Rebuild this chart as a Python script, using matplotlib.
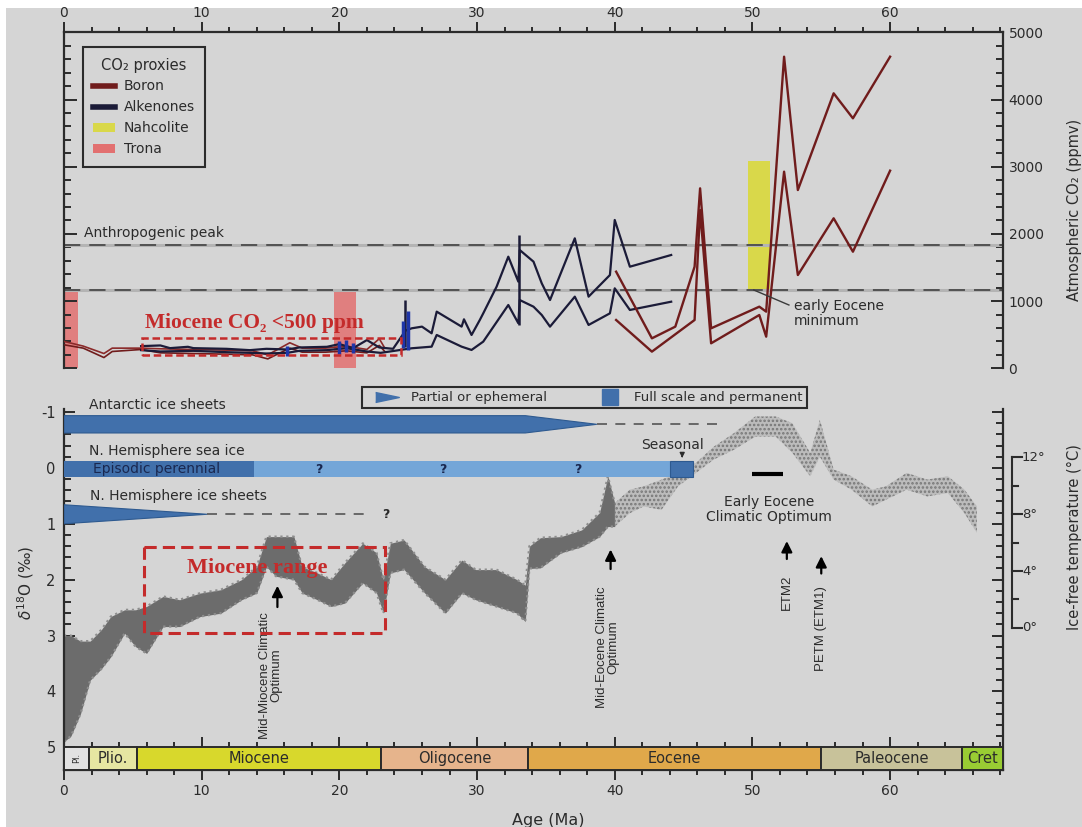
import matplotlib
matplotlib.use("Agg")
import matplotlib.pyplot as plt
import matplotlib.transforms as mtransforms
from matplotlib.patches import Rectangle, Polygon, Patch
from matplotlib.lines import Line2D
from matplotlib.ticker import MultipleLocator
import numpy as np

W, H = 1082, 827
BG = "#d5d5d5"
INK = "#2b2b2b"
RED_TXT = "#c42b2b"
BORON_C = "#701c1c"
ALK_C = "#1b1b38"
ICE_DARK = "#4170ab"
ICE_LIGHT = "#74a6d8"

plt.rcParams['font.family'] = ['DejaVu Sans']
plt.rcParams['axes.unicode_minus'] = False

XMAX = 68.2

# ---------------- top panel: CO2 proxies (age Ma, CO2 ppmv) ----------------
boron_young_age = [0.0, 1.4, 2.9, 3.5, 5.6, 7.0, 9.4, 11.8, 13.7, 14.8, 16.4, 17.3, 19.0, 20.5, 22.0, 22.9, 23.3]
boron_young_hi = [400, 330, 220, 300, 300, 290, 280, 270, 260, 200, 380, 300, 300, 330, 280, 440, 300]
boron_young_lo = [350, 300, 160, 250, 280, 230, 220, 210, 200, 140, 300, 240, 240, 260, 230, 340, 250]

boron_old_hi_age = [40.1, 42.7, 44.4, 45.8, 46.2, 47.0, 50.5, 51.0, 52.3, 53.3, 55.9, 57.3, 60.0]
boron_old_hi = [1438, 446, 620, 1512, 2678, 595, 917, 843, 4637, 2653, 4092, 3720, 4637]
boron_old_lo_age = [40.1, 42.7, 45.8, 46.2, 47.0, 50.5, 51.0, 52.3, 53.3, 55.9, 57.3, 60.0]
boron_old_lo = [719, 248, 719, 2355, 372, 793, 471, 2926, 1388, 2232, 1735, 2941]

alk_hi_age = [5.6, 7.0, 7.7, 9.0, 9.4, 11.8, 13.5, 14.7, 16.2, 17.1, 19.1, 20.0, 21.0, 22.0, 22.9, 23.9,
              24.8, 25.25, 26.0, 26.7, 27.07, 28.88, 29.05, 29.6, 30.2, 30.45, 31.42, 32.27, 33.0, 33.1,
              34.1, 34.7, 35.3, 37.1, 38.1, 39.65, 40.0, 41.1, 44.1]
alk_hi = [330, 340, 300, 320, 300, 290, 270, 290, 280, 310, 320, 360, 300, 420, 310, 290,
          560, 595, 620, 521, 843, 620, 729, 496, 719, 818, 1215, 1661, 1289, 1760,
          1587, 1264, 1016, 1934, 1066, 1388, 2207, 1512, 1686]
alk_lo_age = [5.6, 7.0, 9.4, 11.8, 13.5, 14.7, 16.2, 17.1, 19.1, 20.5, 22.0, 23.0, 24.0, 25.25, 26.7,
              27.07, 28.88, 29.6, 30.45, 32.27, 33.0, 33.1, 34.1, 34.7, 35.3, 37.1, 38.1, 39.65, 40.0,
              41.1, 44.1]
alk_lo = [270, 250, 260, 240, 230, 220, 230, 260, 270, 300, 250, 230, 260, 298, 322,
          496, 322, 273, 397, 942, 670, 1016, 917, 793, 620, 1066, 645, 818, 1190,
          868, 991]

# vertical alkenone spikes
spike_age = [24.8, 33.05]
spike_lo = [322, 645]
spike_hi = [1016, 1983]
# blue marks
blue_age = [16.2, 20.0, 20.5, 21.0, 24.6, 25.0]
blue_lo = [180, 220, 250, 230, 300, 270]
blue_hi = [330, 400, 420, 380, 700, 850]

trona_start = [0.0, 19.6]
trona_end = [1.0, 21.2]
trona_top = 1165
nahcolite_start, nahcolite_end = 49.7, 51.3
nahcolite_lo, nahcolite_hi = 1165, 3085

anthro_peak = 1835
eocene_min = 1165
miocene_box = (5.7, 24.5, 200, 450)   # age0, age1, ppm0, ppm1

# ---------------- lower panel: benthic d18O ----------------
d18o_age = [0.0, 0.5, 1.2, 1.9, 2.7, 3.4, 4.4, 5.2, 6.0, 7.2, 8.4, 9.9, 11.4, 12.9, 14.0, 14.7, 15.4,
            16.7, 17.3, 18.4, 19.4, 20.4, 21.7, 22.7, 23.2, 23.7, 24.7, 26.2, 27.7, 28.9, 29.9, 31.4,
            32.9, 33.5, 33.8, 34.6, 36.1, 37.6, 38.9, 39.5, 40.0, 41.1, 42.1, 43.4, 44.6, 45.9, 47.2,
            48.7, 50.2, 51.7, 52.9, 54.2, 54.9, 55.9, 57.2, 58.7, 59.7, 61.2, 62.7, 64.2, 65.4, 66.3]
d18o_top = [3.0, 3.0, 3.1, 3.1, 2.9, 2.66, 2.54, 2.54, 2.48, 2.3, 2.36, 2.24, 2.18, 2.0, 1.77, 1.23, 1.23,
            1.23, 1.77, 1.88, 2.0, 1.7, 1.35, 1.52, 2.0, 1.35, 1.29, 1.77, 2.0, 1.65, 1.82, 1.82,
            2.0, 2.1, 1.4, 1.25, 1.23, 1.11, 0.80, 0.15, 0.63, 0.39, 0.33, 0.21, 0.09, -0.09, -0.38,
            -0.63, -0.92, -0.92, -0.8, -0.27, -0.86, 0.03, 0.15, 0.39, 0.33, 0.09, 0.21, 0.15, 0.39, 0.69]
d18o_bot = [4.9, 4.8, 4.4, 3.8, 3.6, 3.38, 2.96, 3.2, 3.32, 2.84, 2.84, 2.66, 2.6, 2.36, 2.24, 1.77, 1.94,
            2.0, 2.24, 2.36, 2.48, 2.42, 2.06, 2.24, 2.6, 1.88, 1.82, 2.24, 2.6, 2.24, 2.36, 2.48,
            2.6, 2.75, 1.8, 1.79, 1.52, 1.41, 1.23, 1.05, 1.05, 0.81, 0.69, 0.75, 0.33, 0.09, -0.15,
            -0.33, -0.56, -0.56, -0.27, 0.15, -0.2, 0.21, 0.39, 0.69, 0.57, 0.39, 0.51, 0.45, 0.81, 1.16]
dense_until = 40.0

# ice sheet bars
ant_full, ant_tip, ant_dash_end, ant_y, ant_half = 33.5, 38.7, 47.5, -0.78, 0.155
sea_ice_dark_end, sea_ice_light_end, seasonal_end = 13.8, 44.0, 45.7
sea_ice_top, sea_ice_bot = -0.13, 0.17
sea_ice_q = [18.5, 27.5, 37.3]
nh_tip, nh_dash_end, nh_q, nh_y, nh_half = 10.4, 22.4, 23.4, 0.83, 0.17

miocene_range = (5.8, 23.3, 1.42, 2.96)

# events: (label, age, arrow tail, arrow head, text top, text x)
events = [("Mid-Miocene Climatic\nOptimum", 15.5, 2.54, 2.06, 2.58, 15.0),
          ("Mid-Eocene Climatic\nOptimum", 39.7, 1.86, 1.41, 2.12, 39.5),
          ("ETM2", 52.5, 1.68, 1.26, 1.91, 52.5),
          ("PETM (ETM1)", 55.0, 1.94, 1.53, 2.12, 55.0)]
eeco_start, eeco_end, eeco_y = 50.0, 52.2, 0.11

epoch_names = ["Pl.", "Plio.", "Miocene", "Oligocene", "Eocene", "Paleocene", "Cret"]
epoch_start = [0.0, 1.8, 5.3, 23.0, 33.7, 55.0, 65.2]
epoch_end = [1.8, 5.3, 23.0, 33.7, 55.0, 65.2, XMAX]
epoch_colors = ["#e2e2e2", "#e6e6a2", "#d8d82c", "#e6b48c", "#e0a84a", "#c8c29a", "#99cc33"]

temp_ticks = [0, 2, 4, 6, 8, 10, 12]
d18o_at_12C, d18o_at_0C = -0.187, 2.863

# ======================================================================
fig = plt.figure(figsize=(W / 100, H / 100), dpi=100, facecolor="white")
fig.patches.append(Rectangle((6 / W, 0), 1, 1 - 8 / H, transform=fig.transFigure,
                             facecolor=BG, edgecolor="none", zorder=-5))

x0, xw = 64 / W, 939 / W
ax1 = fig.add_axes([x0, 1 - 368.3 / H, xw, 336 / H])
ax2 = fig.add_axes([x0, 1 - 770 / H, xw, 361 / H])
for ax in (ax1, ax2):
    ax.set_facecolor("none")
    for s in ax.spines.values():
        s.set_linewidth(1.6)
        s.set_color(INK)

# ---------------- top panel ----------------
ax1.set_xlim(0, XMAX)
ax1.set_ylim(0, 5000)
ax1.spines['bottom'].set_visible(False)
ax1.xaxis.tick_top()
ax1.xaxis.set_major_locator(MultipleLocator(10))
ax1.xaxis.set_minor_locator(MultipleLocator(2))
ax1.yaxis.set_major_locator(MultipleLocator(1000))
ax1.yaxis.set_minor_locator(MultipleLocator(200))
ax1.tick_params(axis='x', which='major', direction='out', length=7, width=1.4, pad=1.5,
                labelsize=10, colors=INK)
ax1.tick_params(axis='x', which='minor', direction='out', length=3.5, width=1.4, colors=INK)
ax1.tick_params(axis='y', which='both', left=True, right=True, labelleft=False, labelright=True,
                direction='in', colors=INK, width=1.4)
ax1.tick_params(axis='y', which='major', length=9, pad=4, labelsize=10)
ax1.tick_params(axis='y', which='minor', length=5)

for s, e in zip(trona_start, trona_end):
    ax1.add_patch(Rectangle((s, 0), e - s, trona_top, facecolor="#e27070", edgecolor="none",
                            alpha=0.85, zorder=1))
ax1.add_patch(Rectangle((nahcolite_start, nahcolite_lo), nahcolite_end - nahcolite_start,
                        nahcolite_hi - nahcolite_lo, facecolor="#d9d84a", edgecolor="none", zorder=1))

for lvl in (anthro_peak, eocene_min):
    ax1.axhline(lvl, color="#b4b4b4", lw=2.2, zorder=2)
    ax1.axhline(lvl, color="#4a4a4a", lw=1.3, dashes=(9, 5), zorder=2)

ax1.plot(boron_young_age, boron_young_hi, color="#8a2a2a", lw=1.2, zorder=3)
ax1.plot(boron_young_age, boron_young_lo, color=BORON_C, lw=1.2, zorder=3)
ax1.plot(alk_hi_age, alk_hi, color=ALK_C, lw=1.6, zorder=3)
ax1.plot(alk_lo_age, alk_lo, color=ALK_C, lw=1.6, zorder=3)
ax1.vlines(spike_age, spike_lo, spike_hi, color=ALK_C, lw=1.8, zorder=3)
ax1.vlines(blue_age, blue_lo, blue_hi, color="#1f36a8", lw=2.5, zorder=3)
ax1.plot(boron_old_hi_age, boron_old_hi, color=BORON_C, lw=1.7, zorder=3)
ax1.plot(boron_old_lo_age, boron_old_lo, color=BORON_C, lw=1.7, zorder=3)

a0, a1, p0, p1 = miocene_box
ax1.add_patch(Rectangle((a0, p0), a1 - a0, p1 - p0, facecolor="none", edgecolor=RED_TXT,
                        lw=1.8, ls=(0, (3, 1.5)), zorder=4))
ax1.text(5.9, 674, "Miocene CO₂ <500 ppm", color=RED_TXT, fontsize=15.5, fontweight="bold",
         family=["Liberation Serif", "DejaVu Serif"], va="center", ha="left", zorder=5)
ax1.text(1.45, 2013, "Anthropogenic peak", color=INK, fontsize=10, va="center", ha="left")
ax1.plot([50.1, 52.65], [eocene_min, 942], color="#3a3a3a", lw=1.0, zorder=4)
ax1.text(53.0, 815, "early Eocene\nminimum", color=INK, fontsize=10, va="center", ha="left",
         linespacing=1.05)

leg_handles = [Line2D([], [], color=BORON_C, lw=4), Line2D([], [], color=ALK_C, lw=4),
               Patch(facecolor="#d9d84a"), Patch(facecolor="#e27070")]
leg = ax1.legend(leg_handles, ["Boron", "Alkenones", "Nahcolite", "Trona"], title="CO₂ proxies",
                 loc="upper left", bbox_to_anchor=(0.02, 0.956), borderaxespad=0, fontsize=10,
                 title_fontsize=10.5, frameon=True, fancybox=False, edgecolor=INK, facecolor=BG,
                 framealpha=1, handlelength=1.6, handletextpad=0.6, borderpad=0.75,
                 labelspacing=0.5)
leg.get_frame().set_linewidth(1.5)
for t in leg.get_texts():
    t.set_color(INK)
leg.get_title().set_color(INK)

# ---------------- lower panel ----------------
ax2.set_xlim(0, XMAX)
ax2.set_ylim(5.407, -1.054)
ax2.spines['top'].set_visible(False)
ax2.xaxis.set_major_locator(MultipleLocator(10))
ax2.xaxis.set_minor_locator(MultipleLocator(2))
ax2.yaxis.set_major_locator(MultipleLocator(1))
ax2.yaxis.set_minor_locator(MultipleLocator(0.2))
ax2.set_yticks([-1, 0, 1, 2, 3, 4, 5])
ax2.tick_params(axis='x', which='major', direction='out', length=7, width=1.4, pad=3,
                labelsize=10, colors=INK)
ax2.tick_params(axis='x', which='minor', direction='out', length=3.5, width=1.4, colors=INK)
ax2.tick_params(axis='y', which='both', direction='in', left=True, right=True, labelright=False,
                colors=INK, width=1.4)
ax2.tick_params(axis='y', which='major', length=8, pad=6, labelsize=10.5)
ax2.tick_params(axis='y', which='minor', length=5)

age = np.array(d18o_age)
top = np.array(d18o_top)
bot = np.array(d18o_bot)
dense = age <= dense_until
sparse = age >= dense_until
ax2.fill_between(age[dense], top[dense], bot[dense], color="#6c6c6c", lw=0, zorder=2)
ax2.plot(age[dense], top[dense], color="#8e8e8e", lw=1.6, ls=":", zorder=2)
ax2.plot(age[dense], bot[dense], color="#8e8e8e", lw=1.6, ls=":", zorder=2)
plt.rcParams['hatch.linewidth'] = 1.2
ax2.fill_between(age[sparse], top[sparse], bot[sparse], facecolor="#a8a8a8", lw=0, alpha=0.55, zorder=2)
ax2.fill_between(age[sparse], top[sparse], bot[sparse], facecolor="none", edgecolor="#777777",
                 hatch="....", lw=0, zorder=2)

# ice sheets
ax2.add_patch(Polygon([(0, ant_y - ant_half), (ant_full, ant_y - ant_half), (ant_tip, ant_y),
                       (ant_full, ant_y + ant_half), (0, ant_y + ant_half)],
                      facecolor=ICE_DARK, edgecolor="#2e5a90", lw=0.8, zorder=3))
ax2.plot([ant_tip, ant_dash_end], [ant_y, ant_y], color="#555555", lw=1.2, dashes=(6, 5), zorder=3)
ax2.text(1.8, -1.12, "Antarctic ice sheets", fontsize=10, color=INK, va="center", ha="left")

ax2.add_patch(Rectangle((0, sea_ice_top), sea_ice_dark_end, sea_ice_bot - sea_ice_top,
                        facecolor=ICE_DARK, edgecolor="none", zorder=3))
ax2.add_patch(Rectangle((sea_ice_dark_end, sea_ice_top), sea_ice_light_end - sea_ice_dark_end,
                        sea_ice_bot - sea_ice_top, facecolor=ICE_LIGHT, edgecolor="none", zorder=3))
ax2.add_patch(Rectangle((sea_ice_light_end, sea_ice_top), seasonal_end - sea_ice_light_end,
                        sea_ice_bot - sea_ice_top, facecolor=ICE_DARK, edgecolor="#2e5a90", lw=0.8,
                        zorder=3))
ax2.text(2.1, (sea_ice_top + sea_ice_bot) / 2, "Episodic perennial", fontsize=10, color="#1a2850",
         va="center", ha="left", zorder=4)
for q in sea_ice_q:
    ax2.text(q, (sea_ice_top + sea_ice_bot) / 2, "?", fontsize=9, color="#1a2850", va="center",
             ha="center", fontweight="bold", zorder=4)
ax2.text(1.8, -0.31, "N. Hemisphere sea ice", fontsize=10, color=INK, va="center", ha="left")
ax2.text(44.2, -0.41, "Seasonal", fontsize=10, color=INK, va="center", ha="center")
ax2.annotate("", xy=(44.9, sea_ice_top), xytext=(44.9, -0.26),
             arrowprops=dict(arrowstyle="-|>", color=INK, lw=1, mutation_scale=7), zorder=4)

ax2.add_patch(Polygon([(0, nh_y - nh_half), (nh_tip, nh_y), (0, nh_y + nh_half)],
                      facecolor=ICE_DARK, edgecolor="#2e5a90", lw=0.8, zorder=3))
ax2.plot([nh_tip, nh_dash_end], [nh_y, nh_y], color="#555555", lw=1.2, dashes=(6, 5), zorder=3)
ax2.text(nh_q, nh_y, "?", fontsize=9, color=INK, va="center", ha="center", fontweight="bold")
ax2.text(1.9, 0.51, "N. Hemisphere ice sheets", fontsize=10, color=INK, va="center", ha="left")

# Miocene range box
r0, r1, d0, d1 = miocene_range
ax2.add_patch(Rectangle((r0, d0), r1 - r0, d1 - d0, facecolor="none", edgecolor=RED_TXT, lw=2.2,
                        ls=(0, (4, 2)), zorder=5))
ax2.text(8.9, 1.79, "Miocene range", color=RED_TXT, fontsize=16, fontweight="bold",
         family=["Liberation Serif", "DejaVu Serif"], va="center", ha="left", zorder=6)

narrow = ["Liberation Sans", "DejaVu Sans"]
for label, x, tail, head, ttop, tx in events:
    ax2.annotate("", xy=(x, head), xytext=(x, tail),
                 arrowprops=dict(arrowstyle="-|>", color="black", lw=1.6, mutation_scale=16), zorder=5)
    ax2.text(tx, ttop, label, rotation=90, ha="center", va="top", fontsize=9.5, family=narrow,
             color=INK, multialignment="center", linespacing=1.0)

ax2.plot([eeco_start, eeco_end], [eeco_y, eeco_y], color="black", lw=3, solid_capstyle="butt", zorder=5)
ax2.text(51.2, 0.74, "Early Eocene\nClimatic Optimum", fontsize=10, color=INK, ha="center",
         va="center", linespacing=1.05)

# epochs
for name, s, e, c in zip(epoch_names, epoch_start, epoch_end, epoch_colors):
    ax2.add_patch(Rectangle((s, 5.0), e - s, 5.407 - 5.0, facecolor=c, edgecolor=INK, lw=1.4,
                            zorder=4, clip_on=False))
    if name == "Pl.":
        ax2.text((s + e) / 2, 5.2, name, rotation=90, fontsize=6, color=INK, ha="center",
                 va="center", zorder=5)
    else:
        ax2.text((s + e) / 2, 5.2, name, fontsize=10.5, color=INK, ha="center", va="center", zorder=5)
minor_up = [a for a in np.arange(2, XMAX, 2) if a % 10 != 0]
major_up = np.arange(10, XMAX, 10)
ax2.vlines(minor_up, 4.9, 5.0, color=INK, lw=1.4, zorder=5)
ax2.vlines(major_up, 4.82, 5.0, color=INK, lw=1.4, zorder=5)

# temperature scale on the right
trans = mtransforms.blended_transform_factory(fig.transFigure, ax2.transData)
tdelta = [d18o_at_12C + (12 - t) * (d18o_at_0C - d18o_at_12C) / 12 for t in temp_ticks]
bx = 1011.8 / W
ax2.plot([bx, bx], [tdelta[0], tdelta[-1]], transform=trans, color=INK, lw=1.5, clip_on=False)
for t, d in zip(temp_ticks, tdelta):
    ln = 10 if t % 4 == 0 else 6
    ax2.plot([bx, bx + ln / W], [d, d], transform=trans, color=INK, lw=1.5, clip_on=False)
    if t % 4 == 0:
        ax2.text(1022 / W, d, f"{t}°", transform=trans, fontsize=9.5, color=INK, va="center",
                 ha="left")

# lower legend
leg2 = fig.legend([Line2D([], [], marker=[(-1, -0.42), (1, 0), (-1, 0.42)], markersize=17,
                          color=ICE_DARK, ls="None"),
                   Line2D([], [], marker="s", markersize=11, color=ICE_DARK, ls="None")],
                  ["Partial or ephemeral", "Full scale and permanent"], loc="upper left",
                  bbox_to_anchor=(362 / W, 1 - 387 / H), borderaxespad=0, ncol=2, fontsize=9.5,
                  frameon=True, fancybox=False, edgecolor=INK, facecolor=BG, framealpha=1,
                  handlelength=3.2, handletextpad=0.2, columnspacing=3.2, borderpad=0.32)
leg2.get_frame().set_linewidth(1.5)
for t in leg2.get_texts():
    t.set_color(INK)

# axis labels
fig.text(1074 / W, 1 - 210 / H, "Atmospheric CO₂ (ppmv)", rotation=90, ha="center", va="center",
         fontsize=10.5, color=INK)
fig.text(1074 / W, 1 - 537 / H, "Ice-free temperature (°C)", rotation=90, ha="center", va="center",
         fontsize=10.5, color=INK)
fig.text(26 / W, 1 - 583 / H, r"$\delta^{18}$O (‰)", rotation=90, ha="center", va="center",
         fontsize=11, color=INK)
fig.text(548 / W, 1 - 820 / H, "Age (Ma)", ha="center", va="center", fontsize=11.5, color=INK)

fig.savefig("out.png", dpi=100, facecolor=fig.get_facecolor())
